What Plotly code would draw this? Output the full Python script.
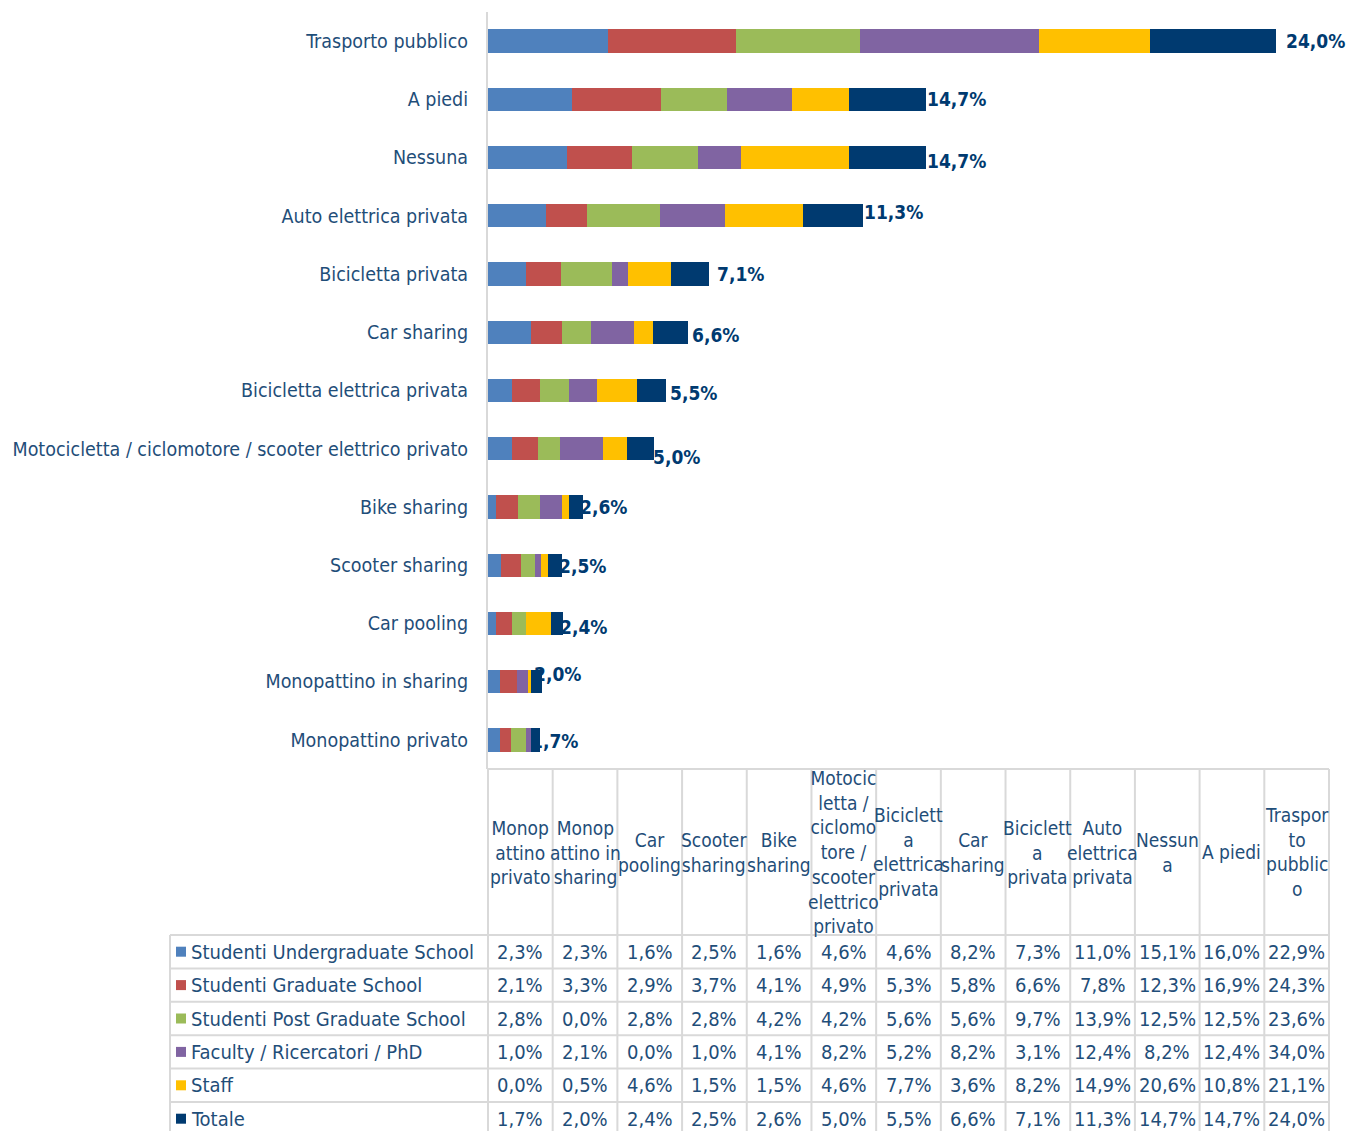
import plotly.graph_objects as go

# Mobility options (first one is drawn at the bottom of the bar chart)
categories = [
    "Monopattino privato",
    "Monopattino in sharing",
    "Car pooling",
    "Scooter sharing",
    "Bike sharing",
    "Motocicletta / ciclomotore / scooter elettrico privato",
    "Bicicletta elettrica privata",
    "Car sharing",
    "Bicicletta privata",
    "Auto elettrica privata",
    "Nessuna",
    "A piedi",
    "Trasporto pubblico",
]

# Wrapped column headings of the data table
header_labels = [
    "Monop<br>attino<br>privato",
    "Monop<br>attino in<br>sharing",
    "Car<br>pooling",
    "Scooter<br>sharing",
    "Bike<br>sharing",
    "Motocic<br>letta /<br>ciclomo<br>tore /<br>scooter<br>elettrico<br>privato",
    "Biciclett<br>a<br>elettrica<br>privata",
    "Car<br>sharing",
    "Biciclett<br>a<br>privata",
    "Auto<br>elettrica<br>privata",
    "Nessun<br>a",
    "A piedi",
    "Traspor<br>to<br>pubblic<br>o",
]

series_names = [
    "Studenti Undergraduate School",
    "Studenti Graduate School",
    "Studenti Post Graduate School",
    "Faculty / Ricercatori / PhD",
    "Staff",
    "Totale",
]

undergraduate = [2.3, 2.3, 1.6, 2.5, 1.6, 4.6, 4.6, 8.2, 7.3, 11.0, 15.1, 16.0, 22.9]
graduate = [2.1, 3.3, 2.9, 3.7, 4.1, 4.9, 5.3, 5.8, 6.6, 7.8, 12.3, 16.9, 24.3]
post_graduate = [2.8, 0.0, 2.8, 2.8, 4.2, 4.2, 5.6, 5.6, 9.7, 13.9, 12.5, 12.5, 23.6]
faculty = [1.0, 2.1, 0.0, 1.0, 4.1, 8.2, 5.2, 8.2, 3.1, 12.4, 8.2, 12.4, 34.0]
staff = [0.0, 0.5, 4.6, 1.5, 1.5, 4.6, 7.7, 3.6, 8.2, 14.9, 20.6, 10.8, 21.1]
totale = [1.7, 2.0, 2.4, 2.5, 2.6, 5.0, 5.5, 6.6, 7.1, 11.3, 14.7, 14.7, 24.0]

series_values = [undergraduate, graduate, post_graduate, faculty, staff, totale]
series_colors = ["#4F81BD", "#C0504D", "#9BBB59", "#8064A2", "#FFC000", "#003A70"]

# Small pixel nudges (dx, dy) for the total labels at the end of each bar
label_nudge = [(-11, 1), (-10, -8), (-5, 4), (-5, 1), (-5, 0), (-3, 8), (2, 3),
               (2, 3), (6, 0), (-1, -4), (-1, 3), (-1, 0), (8, 0)]

FONT = "Liberation Sans Narrow, DejaVu Sans Condensed, Roboto, sans-serif"
TEXT_COLOR = "#1F4E79"
LABEL_COLOR = "#003A70"
GRID_COLOR = "#D9D9D9"

W, H = 1350, 1131
PLOT_LEFT, PLOT_RIGHT = 488, 1329
PLOT_TOP, PLOT_BOTTOM = 12, 769
TABLE_LEFT = 170
HEADER_BOTTOM = 935
ROW_H = 33.4


def xp(px):
    return px / W


def yp(py):
    return 1 - py / H


def fmt(v):
    return f"{v:.1f}%".replace(".", ",")


fig = go.Figure()
for name, vals, color in zip(series_names, series_values, series_colors):
    fig.add_trace(go.Bar(
        y=categories, x=vals, orientation="h", name=name,
        marker=dict(color=color, line=dict(width=0)),
        showlegend=False, hoverinfo="skip",
    ))

annotations = []
shapes = []

# Total labels at the end of each stacked bar
for i, cat in enumerate(categories):
    end = sum(s[i] for s in series_values)
    dx, dy = label_nudge[i]
    annotations.append(dict(
        x=end, y=cat, xref="x", yref="y", xanchor="left", yanchor="middle",
        text=f"<b>{fmt(totale[i])}</b>", showarrow=False,
        xshift=dx, yshift=-dy,
        font=dict(family=FONT, size=19, color=LABEL_COLOR),
    ))

# Data table below the chart
n_cols = len(categories)
col_w = (PLOT_RIGHT - PLOT_LEFT) / n_cols
n_rows = len(series_names)
table_bottom = HEADER_BOTTOM + ROW_H * n_rows
line = dict(color=GRID_COLOR, width=2)

for k in range(n_cols + 1):
    x = PLOT_LEFT + k * col_w
    shapes.append(dict(type="line", xref="paper", yref="paper",
                       x0=xp(x), x1=xp(x), y0=yp(PLOT_BOTTOM), y1=yp(table_bottom), line=line))
shapes.append(dict(type="line", xref="paper", yref="paper",
                   x0=xp(TABLE_LEFT), x1=xp(TABLE_LEFT),
                   y0=yp(HEADER_BOTTOM), y1=yp(table_bottom), line=line))
shapes.append(dict(type="line", xref="paper", yref="paper",
                   x0=xp(PLOT_LEFT), x1=xp(PLOT_RIGHT),
                   y0=yp(PLOT_BOTTOM), y1=yp(PLOT_BOTTOM), line=line))
for r in range(n_rows + 1):
    y = HEADER_BOTTOM + r * ROW_H
    shapes.append(dict(type="line", xref="paper", yref="paper",
                       x0=xp(TABLE_LEFT), x1=xp(PLOT_RIGHT), y0=yp(y), y1=yp(y), line=line))

header_mid = (PLOT_BOTTOM + HEADER_BOTTOM) / 2
for k, lab in enumerate(header_labels):
    annotations.append(dict(
        x=xp(PLOT_LEFT + (k + 0.5) * col_w), y=yp(header_mid), xref="paper", yref="paper",
        xanchor="center", yanchor="middle", align="center", text=lab, showarrow=False,
        font=dict(family=FONT, size=19, color=TEXT_COLOR),
    ))

for r, (name, vals, color) in enumerate(zip(series_names, series_values, series_colors)):
    yc = HEADER_BOTTOM + (r + 0.5) * ROW_H
    shapes.append(dict(type="rect", xref="paper", yref="paper",
                       x0=xp(TABLE_LEFT + 6), x1=xp(TABLE_LEFT + 16),
                       y0=yp(yc - 5), y1=yp(yc + 5),
                       fillcolor=color, line=dict(width=0)))
    annotations.append(dict(
        x=xp(TABLE_LEFT + 19), y=yp(yc), xref="paper", yref="paper",
        xanchor="left", yanchor="middle", text=name, showarrow=False,
        font=dict(family=FONT, size=20, color=TEXT_COLOR),
    ))
    for k, v in enumerate(vals):
        annotations.append(dict(
            x=xp(PLOT_LEFT + (k + 0.5) * col_w), y=yp(yc), xref="paper", yref="paper",
            xanchor="center", yanchor="middle", text=fmt(v), showarrow=False,
            font=dict(family=FONT, size=20, color=TEXT_COLOR),
        ))

fig.update_layout(
    width=W, height=H,
    margin=dict(l=0, r=0, t=0, b=0),
    barmode="stack", bargap=0.6,
    plot_bgcolor="white", paper_bgcolor="white",
    font=dict(family=FONT, color=TEXT_COLOR),
    xaxis=dict(domain=[xp(PLOT_LEFT), xp(PLOT_RIGHT)], range=[0, 160],
               visible=False, showgrid=False, zeroline=False, fixedrange=True),
    yaxis=dict(domain=[yp(PLOT_BOTTOM), yp(PLOT_TOP)], type="category",
               categoryorder="array", categoryarray=categories,
               showline=True, linecolor=GRID_COLOR, linewidth=2,
               ticks="", showgrid=False, ticklabelstandoff=14,
               tickfont=dict(family=FONT, size=19.5, color=TEXT_COLOR), fixedrange=True),
    annotations=annotations,
    shapes=shapes,
)

fig.write_html("out.html")
